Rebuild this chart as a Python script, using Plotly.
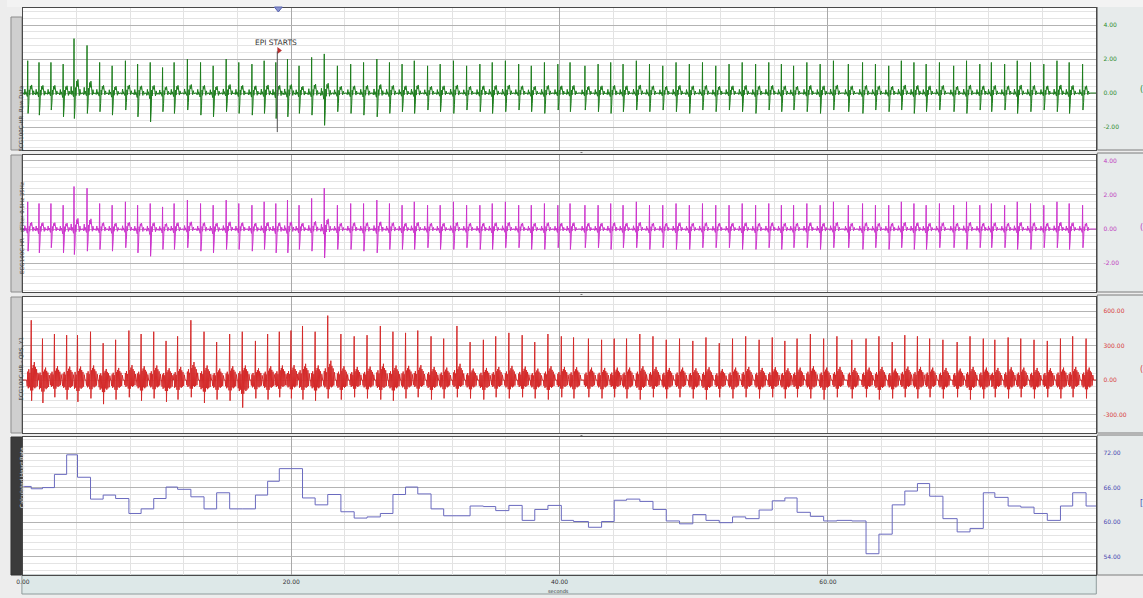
import plotly.graph_objects as go

# ---------------------------------------------------------------- data
# detected beat times (s)
beat_t = [0.62, 1.46, 2.35, 3.26, 4.07, 5.04, 5.98, 6.91, 7.90, 8.81,
          9.75, 10.67, 11.53, 12.52, 13.50, 14.44, 15.41, 16.35, 17.33, 18.24,
          19.11, 19.98, 20.84, 21.78, 22.72, 23.70, 24.69, 25.65, 26.64, 27.58,
          28.52, 29.43, 30.42, 31.36, 32.35, 33.33, 34.32, 35.24, 36.22, 37.21,
          38.15, 39.13, 40.13, 41.04, 42.15, 43.13, 44.07, 44.99, 45.98, 46.96,
          47.95, 48.94, 49.93, 50.91, 51.90, 52.89, 53.87, 54.87, 55.85, 56.79,
          57.70, 58.69, 59.68, 60.67, 61.78, 62.84, 63.80, 64.79, 65.73, 66.67,
          67.58, 68.57, 69.63, 70.59, 71.58, 72.44, 73.43, 74.37, 75.36, 76.35,
          77.33, 78.24, 79.24]

# calculated heart rate (BPM): value before the first beat, then value held after each beat
hr_start = 66.2
hr_vals = [65.8, 66.0, 68.3, 71.7, 67.8, 64.0, 64.7, 64.1, 61.5, 62.3,
           64.1, 66.1, 65.7, 64.4, 62.3, 65.1, 62.3, 62.3, 64.7, 67.1,
           69.3, 69.3, 64.2, 63.0, 64.8, 61.8, 60.7, 60.9, 61.5, 64.8,
           66.1, 64.9, 62.3, 61.1, 61.1, 62.8, 62.7, 62.0, 62.9, 60.3,
           62.2, 62.9, 60.3, 60.1, 59.1, 60.1, 63.8, 64.0, 63.6, 62.2,
           60.2, 59.7, 61.3, 60.3, 59.9, 60.9, 60.6, 62.1, 63.7, 64.2,
           61.7, 61.0, 60.2, 60.3, 60.2, 54.5, 57.9, 63.0, 65.4, 66.7,
           64.5, 60.6, 58.3, 58.9, 65.1, 64.3, 62.8, 62.6, 61.5, 60.3,
           62.8, 65.1, 62.8]

# raw ECG (mV): peak and trough of each complex
raw_peak = [1.9, 1.8, 1.8, 1.7, 3.2, 2.8, 1.8, 1.6, 1.9, 1.7,
            1.8, 1.5, 1.8, 2.0, 1.8, 1.6, 2.0, 1.8, 1.7, 1.9,
            1.8, 2.0, 1.6, 2.1, 2.3, 1.6, 1.7, 1.8, 2.0, 1.8,
            1.7, 1.9, 1.6, 1.7, 1.9, 1.6, 1.7, 1.8, 1.9, 1.7,
            1.6, 1.8, 1.7, 1.8, 1.6, 1.7, 1.8, 1.7, 1.9, 1.7,
            1.6, 1.8, 1.7, 1.8, 1.6, 1.7, 1.8, 1.7, 1.8, 1.7,
            1.6, 1.8, 1.7, 1.9, 1.7, 1.8, 1.7, 1.6, 1.9, 1.8,
            1.7, 1.8, 1.6, 1.9, 1.7, 1.8, 1.7, 1.9, 1.8, 1.7,
            1.9, 1.8, 1.7]
raw_trough = [-1.2, -1.3, -1.0, -1.4, -1.5, -1.2, -1.1, -1.3, -1.0, -1.4,
              -1.7, -1.1, -1.2, -1.0, -1.3, -1.4, -1.1, -1.2, -1.3, -1.2,
              -1.5, -1.4, -1.2, -1.3, -1.9, -1.1, -1.2, -1.3, -1.4, -1.2,
              -1.1, -1.2, -1.0, -1.1, -1.2, -1.0, -1.1, -1.2, -1.1, -1.0,
              -1.1, -1.2, -1.0, -1.1, -1.0, -1.1, -1.2, -1.1, -1.0, -1.1,
              -1.0, -1.1, -1.2, -1.0, -1.1, -1.0, -1.1, -1.2, -1.0, -1.1,
              -1.0, -1.1, -1.2, -1.0, -1.1, -1.2, -1.0, -1.1, -1.0, -1.2,
              -1.1, -1.0, -1.1, -1.2, -1.0, -1.1, -1.0, -1.2, -1.1, -1.0,
              -1.1, -1.2, -1.0]

# band-pass filtered ECG (mV)
filt_peak = [1.6, 1.5, 1.5, 1.4, 2.5, 2.4, 1.5, 1.4, 1.6, 1.4,
             1.5, 1.3, 1.5, 1.7, 1.5, 1.4, 1.7, 1.5, 1.4, 1.6,
             1.5, 1.7, 1.4, 1.8, 2.4, 1.4, 1.5, 1.5, 1.7, 1.5,
             1.4, 1.6, 1.4, 1.4, 1.6, 1.4, 1.4, 1.5, 1.6, 1.4,
             1.4, 1.5, 1.4, 1.5, 1.4, 1.4, 1.5, 1.4, 1.6, 1.4,
             1.4, 1.5, 1.4, 1.5, 1.4, 1.4, 1.5, 1.4, 1.5, 1.4,
             1.4, 1.5, 1.4, 1.6, 1.4, 1.5, 1.4, 1.4, 1.6, 1.5,
             1.4, 1.5, 1.4, 1.6, 1.4, 1.5, 1.4, 1.6, 1.5, 1.4,
             1.6, 1.5, 1.4]
filt_trough = [-1.3, -1.4, -1.1, -1.4, -1.5, -1.3, -1.2, -1.3, -1.1, -1.4,
               -1.6, -1.2, -1.2, -1.1, -1.3, -1.4, -1.2, -1.2, -1.3, -1.2,
               -1.4, -1.4, -1.2, -1.3, -1.7, -1.2, -1.2, -1.3, -1.4, -1.2,
               -1.2, -1.2, -1.1, -1.2, -1.2, -1.1, -1.2, -1.2, -1.1, -1.1,
               -1.2, -1.2, -1.1, -1.2, -1.1, -1.1, -1.2, -1.1, -1.1, -1.2,
               -1.1, -1.2, -1.2, -1.1, -1.1, -1.1, -1.2, -1.2, -1.1, -1.2,
               -1.1, -1.1, -1.2, -1.1, -1.1, -1.2, -1.1, -1.2, -1.1, -1.2,
               -1.2, -1.1, -1.1, -1.2, -1.1, -1.1, -1.1, -1.2, -1.2, -1.1,
               -1.1, -1.2, -1.1]

# QRS-enhanced ECG channel (Y1 units)
qrs_peak = [520, 360, 400, 390, 390, 420, 320, 350, 430, 400,
            420, 340, 380, 520, 420, 330, 400, 420, 340, 400,
            420, 430, 470, 420, 560, 400, 380, 390, 470, 420,
            410, 430, 380, 360, 470, 330, 350, 380, 410, 390,
            330, 400, 380, 370, 360, 350, 360, 360, 400, 380,
            350, 360, 340, 370, 320, 360, 380, 350, 370, 340,
            360, 400, 360, 380, 350, 360, 380, 330, 390, 380,
            360, 350, 330, 380, 360, 350, 370, 360, 350, 340,
            360, 380, 360]
qrs_trough = [-180, -200, -150, -170, -190, -160, -210, -170, -150, -180,
              -160, -190, -170, -150, -200, -170, -180, -240, -160, -170,
              -150, -160, -170, -180, -160, -170, -150, -160, -170, -180,
              -160, -150, -170, -160, -150, -160, -170, -150, -160, -150,
              -160, -170, -150, -160, -150, -160, -150, -160, -170, -150,
              -160, -150, -160, -170, -150, -160, -150, -160, -150, -160,
              -150, -160, -170, -150, -160, -150, -170, -160, -150, -160,
              -150, -160, -150, -170, -160, -150, -160, -150, -160, -150,
              -160, -150, -160]

channel_names = ["ECG100C-HR  Raw Data", "ECG100C-HR - dFilter 0.5Hz 35Hz",
                 "ECG100C-HR - QRS, Y1", "Calculated Heart Rate"]
y_ticks = [[-2, 0, 2, 4], [-2, 0, 2, 4], [-300, 0, 300, 600], [54, 60, 66, 72]]
y_tick_text = [["-2.00", "0.00", "2.00", "4.00"], ["-2.00", "0.00", "2.00", "4.00"],
               ["-300.00", "0.00", "300.00", "600.00"], ["54.00", "60.00", "66.00", "72.00"]]
x_ticks = [0, 20, 40, 60]
x_tick_text = ["0.00", "20.00", "40.00", "60.00"]
epi_time = 18.96

# ---------------------------------------------------------------- waveform assembly
# complex outline: (time from peak, weight on peak value, weight on trough value)
RAW_SHAPE = [(-0.30, 0.0, 0.0), (-0.26, 0.0, 0.08), (-0.21, 0.12, 0.0), (-0.17, 0.0, 0.06),
             (-0.13, 0.04, 0.0), (-0.06, 0.0, 0.12), (-0.03, 0.05, 0.25), (0.00, 1.0, 0.0),
             (0.025, 0.0, 1.0), (0.05, 0.55, 0.0), (0.075, 0.0, 0.55), (0.11, 0.10, 0.0),
             (0.15, 0.0, 0.10), (0.20, 0.22, 0.0), (0.25, 0.12, 0.0), (0.29, 0.25, 0.0),
             (0.34, 0.06, 0.0), (0.39, 0.0, 0.10), (0.44, 0.07, 0.0), (0.50, 0.0, 0.05),
             (0.56, 0.0, 0.0)]
QRS_SHAPE = [(-0.34, 0.0, 0.0), (-0.30, 0.0, 0.30), (-0.26, 0.14, 0.0), (-0.22, 0.0, 0.40),
             (-0.18, 0.18, 0.0), (-0.14, 0.0, 0.35), (-0.10, 0.12, 0.0), (-0.05, 0.0, 0.5),
             (0.00, 1.0, 0.0), (0.03, 0.0, 1.0), (0.07, 0.20, 0.0), (0.11, 0.0, 0.50),
             (0.15, 0.25, 0.0), (0.19, 0.0, 0.35), (0.23, 0.30, 0.0), (0.27, 0.0, 0.40),
             (0.31, 0.22, 0.0), (0.35, 0.0, 0.35), (0.40, 0.18, 0.0), (0.45, 0.0, 0.30),
             (0.50, 0.12, 0.0), (0.56, 0.0, 0.0)]
RAW_LEAD = 0.26   # raw/filtered complexes lead the QRS channel peaks


def build(times, peaks, troughs, shape, shift):
    xs, ys = [0.0], [0.0]
    for t, p, q in zip(times, peaks, troughs):
        for dt, wp, wq in shape:
            xx = t - shift + dt
            if xs[-1] < xx <= 80:
                xs.append(xx)
                ys.append(wp * p + wq * q)
    xs.append(80.0)
    ys.append(0.0)
    return xs, ys


raw_x, raw_y = build(beat_t, raw_peak, raw_trough, RAW_SHAPE, RAW_LEAD)
flt_x, flt_y = build(beat_t, filt_peak, filt_trough, RAW_SHAPE, RAW_LEAD)
qrs_x, qrs_y = build(beat_t, qrs_peak, qrs_trough, QRS_SHAPE, 0.0)
hr_x = [0.0] + beat_t + [80.0]
hr_y = [hr_start] + hr_vals + [hr_vals[-1]]

# ---------------------------------------------------------------- layout geometry (px)
W, H = 1143, 598
X0, X1 = 16, 1096
PANELS = [(8, 150), (155, 292), (297, 433), (437, 575)]
Y_RANGES = [[-3.35, 5.0], [-3.7, 4.35], [-461, 722], [50.8, 74.8]]
MINOR = [0.4, 0.4, 60, 1.2]
COLORS = ["#1d7d1d", "#cc33cc", "#d42a2a", "#6a6abf"]
LABEL_COLORS = ["#2e8b2e", "#c040c0", "#d84040", "#4848b0"]


def fx(p):
    return p / W


def fy(p):
    return 1 - p / H


fig = go.Figure()
series = [(raw_x, raw_y), (flt_x, flt_y), (qrs_x, qrs_y), (hr_x, hr_y)]
for i, (xs, ys) in enumerate(series):
    k = "" if i == 0 else str(i + 1)
    fig.add_trace(go.Scatter(
        x=xs, y=ys, mode="lines", xaxis="x" + k, yaxis="y" + k,
        line=dict(color=COLORS[i], width=1, shape="hv" if i == 3 else "linear"),
        hoverinfo="skip", showlegend=False))

# event flag
fig.add_trace(go.Scatter(x=[epi_time + 0.12], y=[2.5], mode="markers", xaxis="x", yaxis="y",
                         marker=dict(symbol="triangle-right", size=6, color="#b83030"),
                         hoverinfo="skip", showlegend=False))

layout = dict(width=W, height=H, margin=dict(l=0, r=0, t=0, b=0),
              paper_bgcolor="#ededed", plot_bgcolor="#ffffff", showlegend=False)

shapes, annos = [], []
for i, (top, bot) in enumerate(PANELS):
    k = "" if i == 0 else str(i + 1)
    layout["xaxis" + k] = dict(
        domain=[fx(X0), fx(X1)], anchor="y" + k, range=[0, 80], matches="x" if i else None,
        showgrid=True, gridcolor="#a9a9a9", gridwidth=1, tickvals=x_ticks,
        minor=dict(dtick=4, showgrid=True, gridcolor="#e2e2e2", gridwidth=1),
        showline=True, mirror=True, linecolor="#4a4a4a", linewidth=1,
        zeroline=False, ticks="", ticklabelstandoff=1,
        showticklabels=(i == 3), ticktext=x_tick_text,
        tickfont=dict(family="DejaVu Sans", size=6, color="#333333"))
    layout["yaxis" + k] = dict(
        domain=[fy(bot), fy(top)], anchor="x" + k, range=Y_RANGES[i], side="right",
        tickvals=y_ticks[i], ticktext=y_tick_text[i], ticks="",
        tickfont=dict(family="DejaVu Sans", size=6, color=LABEL_COLORS[i]),
        ticklabelstandoff=5,
        showgrid=True, gridcolor="#b3b3b3", gridwidth=1,
        minor=dict(dtick=MINOR[i], tick0=y_ticks[i][0], showgrid=True,
                   gridcolor="#e4e4e4", gridwidth=1),
        showline=True, mirror=True, linecolor="#4a4a4a", linewidth=1, zeroline=False)

    # value column box
    shapes.append(dict(type="rect", xref="paper", yref="paper", layer="below",
                       x0=fx(X1 + 1), x1=fx(W + 4), y0=fy(bot), y1=fy(top - 2),
                       fillcolor="#e7ebeb", line=dict(color="#7d7d7d", width=1)))
    # channel label tab
    dark = i == 3
    shapes.append(dict(type="rect", xref="paper", yref="paper", layer="below",
                       x0=fx(4), x1=fx(15), y0=fy(bot), y1=fy(top + (9 if i == 0 else 0)),
                       fillcolor="#3b3b3b" if dark else "#cfcfcf",
                       line=dict(color="#333333" if dark else "#8c8c8c", width=1)))
    annos.append(dict(xref="paper", yref="paper", x=fx(9.5), y=fy((top + bot) / 2 + 4),
                      text=channel_names[i], textangle=-90, showarrow=False,
                      font=dict(family="DejaVu Sans", size=5.5,
                                color="#e0e0e0" if dark else "#3a3a3a")))
    # channel glyph at the right edge
    annos.append(dict(xref="paper", yref="paper", x=fx(1141), y=fy((top + bot) / 2 + 4),
                      text="(" if i < 3 else "[", showarrow=False, xanchor="center",
                      font=dict(family="DejaVu Sans", size=8, color=LABEL_COLORS[i])))
    # separator handle
    if i < 3:
        shapes.append(dict(type="rect", xref="paper", yref="paper",
                           x0=fx(577), x1=fx(579), y0=fy(bot + 3), y1=fy(bot + 2),
                           fillcolor="#7a7a7a", line=dict(width=0)))

# time axis strip
shapes.append(dict(type="rect", xref="paper", yref="paper", layer="below",
                   x0=fx(15), x1=fx(X1), y0=fy(594), y1=fy(575),
                   fillcolor="#dde8e8", line=dict(color="#8f9c9c", width=1)))
# top strip
shapes.append(dict(type="rect", xref="paper", yref="paper", layer="below",
                   x0=0, x1=1, y0=fy(7), y1=1, fillcolor="#f3f3f3", line=dict(width=0)))
# event line and cursor marker
shapes.append(dict(type="line", xref="x", yref="y", x0=epi_time, x1=epi_time,
                   y0=-2.3, y1=2.45, line=dict(color="#505050", width=1)))
shapes.append(dict(type="path", xref="paper", yref="paper",
                   path=f"M {fx(269)} {fy(7)} L {fx(277)} {fy(7)} L {fx(273)} {fy(12)} Z",
                   fillcolor="#8a94d0", line=dict(color="#5a64b0", width=1)))

annos.append(dict(xref="x", yref="y", x=epi_time - 0.1, y=3.0, text="EPI STARTS",
                  showarrow=False, font=dict(family="DejaVu Sans", size=7.5, color="#333333")))
annos.append(dict(xref="paper", yref="paper", x=fx(555), y=fy(591), text="seconds",
                  showarrow=False, yanchor="middle",
                  font=dict(family="DejaVu Sans", size=5, color="#333333")))

layout["shapes"] = shapes
layout["annotations"] = annos
fig.update_layout(**layout)
fig.write_html("out.html")
